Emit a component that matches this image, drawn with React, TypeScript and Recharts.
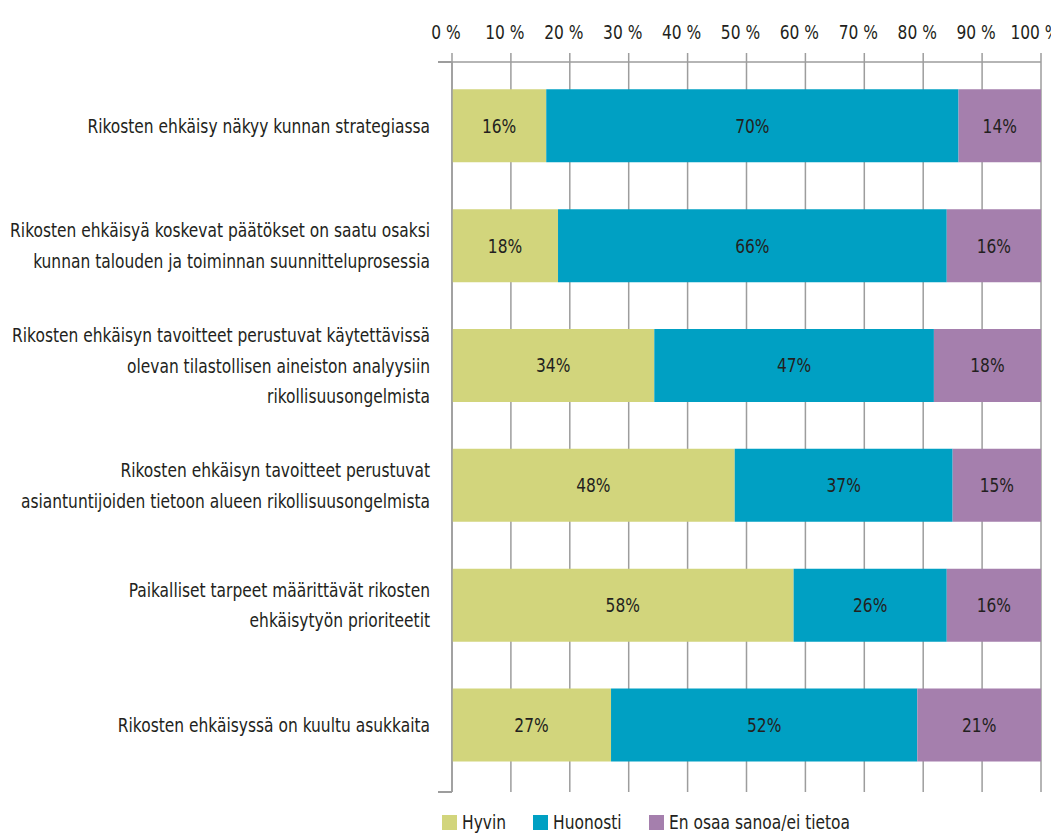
import { BarChart, Bar, XAxis, YAxis, CartesianGrid, Legend, LabelList } from "recharts";

const FONT = "'DejaVu Sans Condensed', 'Liberation Sans Narrow', 'Roboto', sans-serif";
const TEXT = "#231f20";
const GRID = "#9d9d9d";
const FONT_SIZE = 20;
const SQUEEZE = 0.86; // the original uses a condensed face, so narrow the glyphs

// Category labels, split into the lines used in the picture
const categoryLines = [
  ["Rikosten ehkäisy näkyy kunnan strategiassa"],
  ["Rikosten ehkäisyä koskevat päätökset on saatu osaksi", "kunnan talouden ja toiminnan suunnitteluprosessia"],
  ["Rikosten ehkäisyn tavoitteet perustuvat käytettävissä", "olevan tilastollisen aineiston analyysiin", "rikollisuusongelmista"],
  ["Rikosten ehkäisyn tavoitteet perustuvat", "asiantuntijoiden tietoon alueen rikollisuusongelmista"],
  ["Paikalliset tarpeet määrittävät rikosten", "ehkäisytyön prioriteetit"],
  ["Rikosten ehkäisyssä on kuultu asukkaita"],
];

const hyvin = [16, 18, 34, 48, 58, 27];
const huonosti = [70, 66, 47, 37, 26, 52];
const eiTietoa = [14, 16, 18, 15, 16, 21];

const xTicks = [0, 0.1, 0.2, 0.3, 0.4, 0.5, 0.6, 0.7, 0.8, 0.9, 1];

const series = [
  { key: "hyvin", name: "Hyvin", color: "#d2d57c", values: hyvin },
  { key: "huonosti", name: "Huonosti", color: "#00a0c3", values: huonosti },
  { key: "eiTietoa", name: "En osaa sanoa/ei tietoa", color: "#a57fad", values: eiTietoa },
];

const data = categoryLines.map((lines, i) => ({
  name: lines.join(" "),
  hyvin: hyvin[i],
  huonosti: huonosti[i],
  eiTietoa: eiTietoa[i],
}));

// horizontally squeezed svg text, anchored at x
const Squeezed = ({ x, children, ...rest }: any) => (
  <g transform={`translate(${x},0) scale(${SQUEEZE},1)`}>
    <text x={0} fill={TEXT} fontSize={FONT_SIZE} fontFamily={FONT} {...rest}>
      {children}
    </text>
  </g>
);

const CategoryTick = (props: any) => {
  const { x, y, payload } = props;
  const lines = categoryLines[payload.index] ?? [payload.value];
  const step = 30.5;
  return (
    <g>
      {lines.map((line, i) => (
        <Squeezed key={i} x={x} y={y + (i - (lines.length - 1) / 2) * step} textAnchor="end" dominantBaseline="central">
          {line}
        </Squeezed>
      ))}
    </g>
  );
};

const PercentTick = (props: any) => {
  const { x, y, payload } = props;
  return (
    <Squeezed x={x - 6} y={y} textAnchor="middle">
      {`${Math.round(payload.value * 100)} %`}
    </Squeezed>
  );
};

const makeLabel = (values: number[]) => (props: any) => {
  const { x, y, width, height, index } = props;
  return (
    <Squeezed x={x + width / 2} y={y + height / 2} textAnchor="middle" dominantBaseline="central">
      {`${values[index]}%`}
    </Squeezed>
  );
};

let canvas: HTMLCanvasElement | null = null;
const textWidth = (s: string) => {
  if (!canvas) canvas = document.createElement("canvas");
  const ctx = canvas.getContext("2d")!;
  ctx.font = `${FONT_SIZE}px ${FONT}`;
  return ctx.measureText(s).width * SQUEEZE;
};

const LegendContent = () => (
  <div style={{ height: 43, display: "flex", alignItems: "flex-end", fontFamily: FONT, fontSize: FONT_SIZE, color: TEXT }}>
    {series.map((s) => (
      <div key={s.key} style={{ display: "flex", alignItems: "center", marginRight: 27, height: 26 }}>
        <span style={{ display: "inline-block", width: 15, height: 15, background: s.color, marginRight: 5 }} />
        <span style={{ display: "inline-block", width: textWidth(s.name), whiteSpace: "nowrap" }}>
          <span style={{ display: "inline-block", transform: `scaleX(${SQUEEZE})`, transformOrigin: "left center" }}>
            {s.name}
          </span>
        </span>
      </div>
    ))}
  </div>
);

export default function App() {
  return (
    <div style={{ position: "relative", width: 1051, height: 827 }}>
      <BarChart
        width={1051}
        height={827}
        data={data}
        layout="vertical"
        stackOffset="expand"
        barCategoryGap="19.5%"
        margin={{ top: 0, right: 18, bottom: 0, left: 0 }}
      >
        <CartesianGrid horizontal={false} stroke={GRID} strokeWidth={1.5} />
        <XAxis
          type="number"
          orientation="top"
          domain={[0, 1]}
          ticks={xTicks}
          height={54}
          tickSize={9}
          tickMargin={14}
          stroke={GRID}
          axisLine={{ stroke: GRID, strokeWidth: 1.5 }}
          tickLine={{ stroke: GRID, strokeWidth: 1.5 }}
          tick={<PercentTick />}
          interval={0}
        />
        <YAxis
          type="category"
          dataKey="name"
          width={444}
          padding={{ top: 4, bottom: 7 }}
          tickLine={false}
          tickSize={0}
          tickMargin={22}
          axisLine={{ stroke: GRID, strokeWidth: 1.5 }}
          tick={<CategoryTick />}
          interval={0}
        />
        <Legend
          verticalAlign="bottom"
          align="left"
          content={<LegendContent />}
          wrapperStyle={{ left: 434, top: 784 }}
        />
        {series.map((s) => (
          <Bar key={s.key} dataKey={s.key} name={s.name} stackId="a" fill={s.color} isAnimationActive={false}>
            <LabelList dataKey={s.key} content={makeLabel(s.values)} />
          </Bar>
        ))}
      </BarChart>
      {/* small stubs where the axes overhang to the left */}
      <div style={{ position: "absolute", left: 430, top: 53, width: 14, height: 1.5, background: GRID }} />
      <div style={{ position: "absolute", left: 430, top: 783, width: 14, height: 1.5, background: GRID }} />
    </div>
  );
}
